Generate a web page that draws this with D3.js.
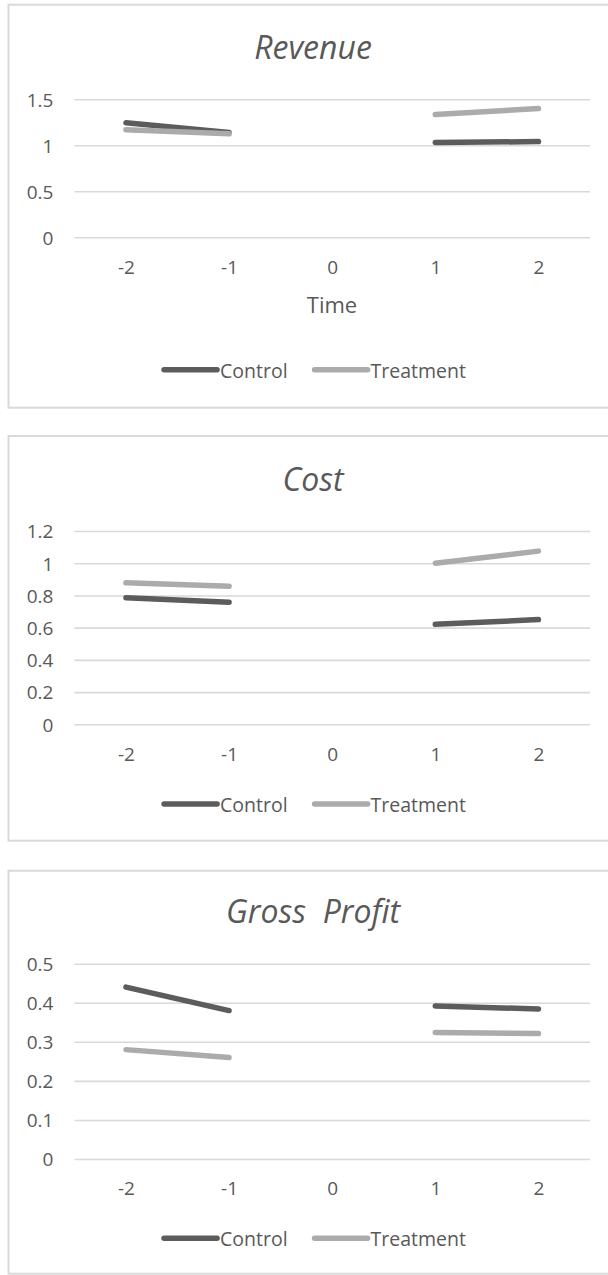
<!DOCTYPE html>
<html>
<head>
<meta charset="utf-8">
<script src="https://cdn.jsdelivr.net/npm/d3@7"></script>
<style>
  body { margin: 0; background: #fff; }
  svg { display: block; }
  text { font-family: "Open Sans", "Noto Sans", sans-serif; fill: #595959; }
</style>
</head>
<body>
<svg id="chart" width="608" height="1275"></svg>
<script>
// Time periods relative to the event (0 has no observation)
const periods = [-2, -1, 0, 1, 2];
const seriesNames = ["Control", "Treatment"];

const revenueControl   = [1.245, 1.14, null, 1.03, 1.04];
const revenueTreatment = [1.17, 1.125, null, 1.335, 1.40];
const costControl      = [0.786, 0.758, null, 0.621, 0.65];
const costTreatment    = [0.878, 0.857, null, 1.0, 1.075];
const profitControl    = [0.44, 0.38, null, 0.392, 0.384];
const profitTreatment  = [0.28, 0.26, null, 0.324, 0.321];

const revenueTicks = [0, 0.5, 1, 1.5];
const costTicks    = [0, 0.2, 0.4, 0.6, 0.8, 1, 1.2];
const profitTicks  = [0, 0.1, 0.2, 0.3, 0.4, 0.5];

const titles = ["Revenue", "Cost", "Gross  Profit"];
const xAxisTitle = "Time";

const seriesColors = ["#5c5c5c", "#ababab"];

// One entry per panel, assembled from the arrays above
const panels = [
  { title: titles[0], series: [revenueControl, revenueTreatment], ticks: revenueTicks, showAxisTitle: true },
  { title: titles[1], series: [costControl, costTreatment], ticks: costTicks, showAxisTitle: false },
  { title: titles[2], series: [profitControl, profitTreatment], ticks: profitTicks, showAxisTitle: false }
];

// Panel frames and inner plot geometry (relative to each panel's top)
const frames = [
  { top: 4.7,   height: 403,   plotTop: 94.6, plotBottom: 232.6, titleY: 54,   legendY: 365, axisTitleY: 308 },
  { top: 436,   height: 404.7, plotTop: 95,   plotBottom: 288.3, titleY: 54.5, legendY: 368 },
  { top: 870.7, height: 403,   plotTop: 93,   plotBottom: 288.3, titleY: 52.5, legendY: 367.6 }
];

const plotLeft = 74.4, plotRight = 590;
const frameLeft = 8.5, frameWidth = 620;

const tickFont = 19, legendFont = 19.5, axisTitleFont = 22, titleFont = 32;

const svg = d3.select("#chart");

const x = d3.scalePoint().domain(periods).range([plotLeft, plotRight]).padding(0.5);

panels.forEach((p, i) => {
  const f = frames[i];
  const g = svg.append("g").attr("transform", `translate(0,${f.top})`);

  // panel border
  g.append("rect")
    .attr("x", frameLeft).attr("y", 0)
    .attr("width", frameWidth).attr("height", f.height)
    .attr("fill", "#fff").attr("stroke", "#d9d9d9").attr("stroke-width", 2);

  const ymax = d3.max(p.ticks);
  const y = d3.scaleLinear().domain([0, ymax]).range([f.plotBottom, f.plotTop]);

  // y axis with full-width gridlines
  const yAxis = g.append("g")
    .attr("transform", `translate(${plotLeft},0)`)
    .call(d3.axisLeft(y).tickValues(p.ticks).tickFormat(d => String(d))
      .tickSize(-(plotRight - plotLeft)).tickPadding(21));
  yAxis.select(".domain").remove();
  yAxis.selectAll(".tick line").attr("stroke", "#d9d9d9").attr("stroke-width", 1.6);
  yAxis.selectAll(".tick text")
    .attr("font-size", tickFont).attr("fill", "#595959").attr("dy", "0.36em")
    .style("font-family", "'Open Sans', sans-serif");

  // x axis labels
  const xAxis = g.append("g")
    .attr("transform", `translate(0,${f.plotBottom})`)
    .call(d3.axisBottom(x).tickSize(0).tickPadding(23));
  xAxis.select(".domain").remove();
  xAxis.selectAll(".tick text")
    .attr("font-size", tickFont).attr("fill", "#595959")
    .style("font-family", "'Open Sans', sans-serif");

  // title
  g.append("text")
    .attr("x", 313).attr("y", f.titleY)
    .attr("text-anchor", "middle")
    .attr("font-size", titleFont).attr("font-style", "italic")
    .style("white-space", "pre")
    .text(p.title);

  if (p.showAxisTitle) {
    g.append("text")
      .attr("x", 332).attr("y", f.axisTitleY)
      .attr("text-anchor", "middle")
      .attr("font-size", axisTitleFont)
      .text(xAxisTitle);
  }

  // series lines, broken where there is no observation
  const line = d3.line()
    .defined(d => d.v != null)
    .x(d => x(d.t))
    .y(d => y(d.v));

  p.series.forEach((vals, si) => {
    const pts = periods.map((t, k) => ({ t, v: vals[k] }));
    g.append("path")
      .datum(pts)
      .attr("d", line)
      .attr("fill", "none")
      .attr("stroke", seriesColors[si])
      .attr("stroke-width", 5.5)
      .attr("stroke-linecap", "round")
      .attr("stroke-linejoin", "round");
  });

  // legend, centred under the plot
  const lg = g.append("g");
  const lineLen = 53, textGap = 3, itemGap = 27;
  let cursor = 0;
  seriesNames.forEach((name, si) => {
    const item = lg.append("g").attr("transform", `translate(${cursor},0)`);
    item.append("line")
      .attr("x1", 0).attr("x2", lineLen)
      .attr("y1", 0).attr("y2", 0)
      .attr("stroke", seriesColors[si]).attr("stroke-width", 5.5)
      .attr("stroke-linecap", "round");
    const t = item.append("text")
      .attr("x", lineLen + textGap).attr("y", 0).attr("dy", "0.4em")
      .attr("font-size", legendFont)
      .text(name);
    cursor += lineLen + textGap + t.node().getComputedTextLength() + itemGap;
  });
  const total = cursor - itemGap;
  lg.attr("transform", `translate(${315 - total / 2},${f.legendY})`);
});
</script>
</body>
</html>
